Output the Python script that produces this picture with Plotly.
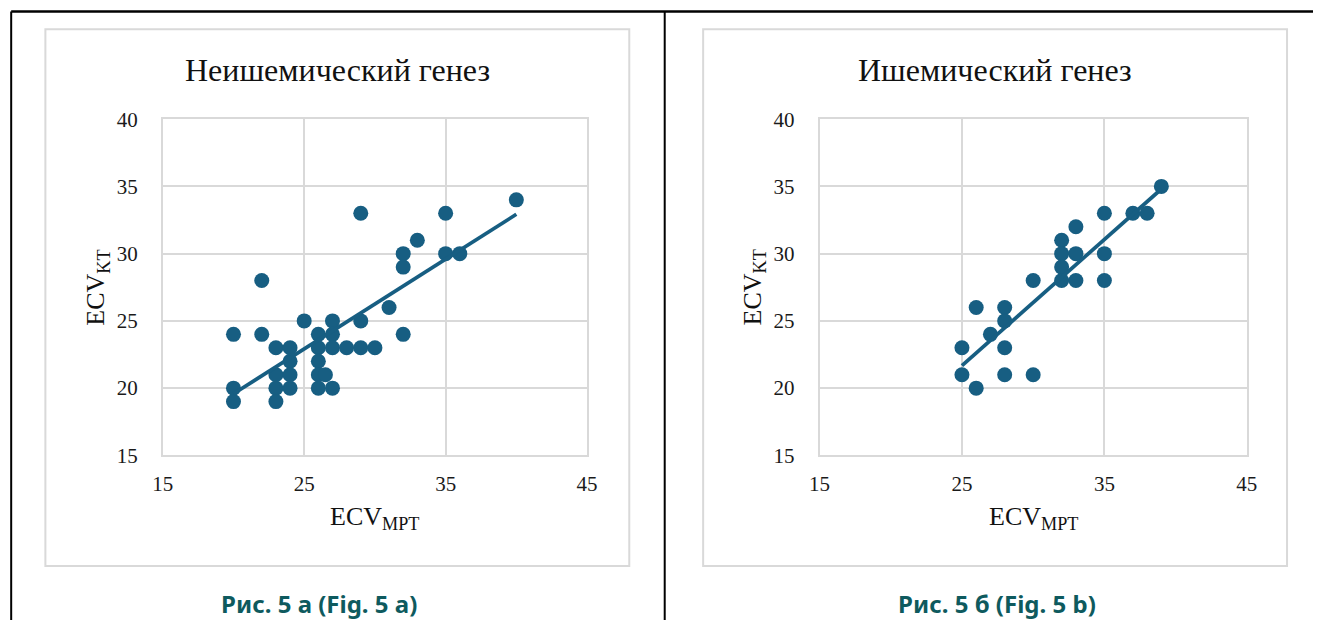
import numpy as np
import plotly.graph_objects as go

# The photographed page shows the figure offset by the body margin and slightly
# rescaled; map reference-picture coordinates into figure pixels accordingly.
OFF = 8
SX, AX = 0.986, 1.66
SY, AY = 0.966, 2.86
W, H = 1324, 632

# ---- data: non-ischemic (left) ----
left_x = [40, 29, 35, 33, 32, 32, 35, 36, 22, 31, 25, 27, 29, 20, 22, 26, 27, 32,
          23, 24, 26, 27, 28, 29, 30, 26, 24, 23, 24, 26, 26.5, 20, 23, 24, 26, 27, 20, 23]
left_y = [34, 33, 33, 31, 30, 29, 30, 30, 28, 26, 25, 25, 25, 24, 24, 24, 24, 24,
          23, 23, 23, 23, 23, 23, 23, 22, 22, 21, 21, 21, 21, 20, 20, 20, 20, 20, 19, 19]

# ---- data: ischemic (right) ----
right_x = [39, 35, 37, 38, 33, 32, 32, 33, 35, 32, 32, 33, 35, 30, 26, 28, 28, 27,
           25, 28, 25, 28, 30, 26]
right_y = [35, 33, 33, 33, 32, 31, 30, 30, 30, 29, 28, 28, 28, 28, 26, 26, 25, 24,
           23, 23, 21, 21, 21, 20]

titles = ["Неишемический генез", "Ишемический генез"]
captions = ["Рис. 5 а (Fig. 5 a)", "Рис. 5 б (Fig. 5 b)"]
x_ticks = [15, 25, 35, 45]
y_ticks = [15, 20, 25, 30, 35, 40]

MARK = "#175e82"
GRID = "#d9d9d9"
SERIF = "Liberation Serif, Times New Roman, serif"

def px(x):
    return ((x - AX) / SX - OFF) / W

def py(y):
    return 1 - ((y - AY) / SY - OFF) / H

fig = go.Figure()

panels = [
    dict(xs=left_x, ys=left_y, dom=(162.6, 587.7), box=(45, 630), cap=319.5, suffix=""),
    dict(xs=right_x, ys=right_y, dom=(820.6, 1248.7), box=(704, 1289), cap=998, suffix="2"),
]

shapes = []
annotations = []
for i, p in enumerate(panels):
    xa = "x" + p["suffix"]
    ya = "y" + p["suffix"]
    fig.add_trace(go.Scatter(x=p["xs"], y=p["ys"], mode="markers",
                             marker=dict(size=15, color=MARK),
                             xaxis=xa, yaxis=ya, showlegend=False))
    k, b = np.polyfit(p["xs"], p["ys"], 1)
    xl = np.array([min(p["xs"]), max(p["xs"])])
    fig.add_trace(go.Scatter(x=xl, y=k * xl + b, mode="lines",
                             line=dict(color=MARK, width=3.7),
                             xaxis=xa, yaxis=ya, showlegend=False))
    axcommon = dict(showgrid=True, gridcolor=GRID, gridwidth=1.7,
                    showline=True, linecolor=GRID, linewidth=1.7, mirror=True,
                    zeroline=False, ticks="",
                    tickfont=dict(family=SERIF, size=21, color="#1a1a1a"))
    fig.update_layout(**{
        "xaxis" + p["suffix"]: dict(axcommon, domain=[px(p["dom"][0]), px(p["dom"][1])],
                                    range=[15, 45], tickvals=x_ticks, anchor=ya,
                                    ticklabelstandoff=9),
        "yaxis" + p["suffix"]: dict(axcommon, domain=[py(455.8), py(118.2)],
                                    range=[15, 40], tickvals=y_ticks, anchor=xa,
                                    ticklabelstandoff=19),
    })
    bx0, bx1 = p["box"]
    shapes.append(dict(type="rect", xref="paper", yref="paper",
                       x0=px(bx0), x1=px(bx1), y0=py(567), y1=py(28),
                       line=dict(color=GRID, width=2), layer="below"))
    cx = (bx0 + bx1) / 2
    annotations.append(dict(text=titles[i], x=px(cx), y=py(68.5), xref="paper", yref="paper",
                            showarrow=False, xanchor="center", yanchor="middle",
                            font=dict(family=SERIF, size=32, color="#111111")))
    pcx = (p["dom"][0] + p["dom"][1]) / 2
    annotations.append(dict(text="ECV<sub>MPT</sub>", x=px(pcx), y=py(519),
                            xref="paper", yref="paper", showarrow=False,
                            xanchor="center", yanchor="middle",
                            font=dict(family=SERIF, size=26, color="#111111")))
    annotations.append(dict(text="ECV<sub>KT</sub>", x=px(p["dom"][0] - 65.5), y=py(287),
                            xref="paper", yref="paper", showarrow=False, textangle=-90,
                            xanchor="center", yanchor="middle",
                            font=dict(family=SERIF, size=26, color="#111111")))
    annotations.append(dict(text="<b>" + captions[i] + "</b>", x=px(p["cap"]), y=py(605),
                            xref="paper", yref="paper", showarrow=False,
                            xanchor="center", yanchor="middle",
                            font=dict(family="Noto Sans, sans-serif", size=24, color="#0e5a5e")))

# black frame lines
top = max(py(10), 1 - 1.2 / H)
left = max(px(8.5), 1.2 / W)
shapes += [
    dict(type="line", xref="paper", yref="paper", x0=left, x1=1, y0=top, y1=top,
         line=dict(color="black", width=2.5)),
    dict(type="line", xref="paper", yref="paper", x0=left, x1=left, y0=top, y1=0,
         line=dict(color="black", width=2)),
    dict(type="line", xref="paper", yref="paper", x0=px(665.5), x1=px(665.5), y0=top, y1=0,
         line=dict(color="black", width=2)),
]

fig.update_layout(width=W, height=H, margin=dict(l=0, r=0, t=0, b=0),
                  paper_bgcolor="white", plot_bgcolor="white",
                  shapes=shapes, annotations=annotations)

fig.write_html("out.html")
